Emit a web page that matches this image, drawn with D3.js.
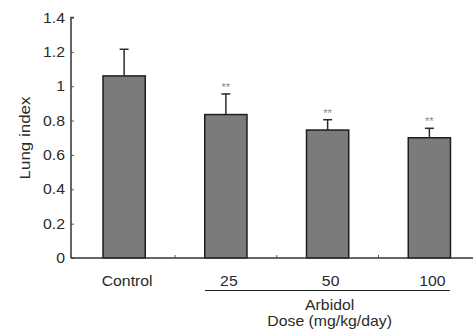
<!DOCTYPE html>
<html><head><meta charset="utf-8">
<script src="https://cdn.jsdelivr.net/npm/d3@7"></script>
<style>body{margin:0;background:#fff}svg{display:block}text{font-family:"Liberation Sans",Arial,sans-serif;fill:#2a2a2a}</style>
</head><body>
<svg id="c" width="473" height="330"></svg>
<script>
const categories = ["Control","25","50","100"];
const values = [1.06, 0.835, 0.745, 0.70];
const errors = [0.155, 0.12, 0.06, 0.055];
const stars = ["","**","**","**"];
const yTicks = [0,0.2,0.4,0.6,0.8,1,1.2,1.4];
const yTickLabels = ["0","0.2","0.4","0.6","0.8","1","1.2","1.4"];

const svg = d3.select("#c");
const x0 = 71, y0 = 258;
const x = d3.scaleBand().domain(categories).range([73.5, 480]).paddingInner(0.585).paddingOuter(0.29);
const y = d3.scaleLinear().domain([0,1.4]).range([y0, 17.5]);
const sx = 1.13;

// bars
svg.selectAll("rect.bar").data(values).join("rect")
  .attr("x",(d,i)=>x(categories[i])).attr("y",d=>y(d))
  .attr("width",x.bandwidth()).attr("height",d=>y0-y(d))
  .attr("fill","#7b7b7b").attr("stroke","#1e1e1e").attr("stroke-width",1.5);

// error bars
const cx = i => x(categories[i]) + x.bandwidth()/2;
svg.selectAll("line.err").data(values).join("line")
  .attr("x1",(d,i)=>cx(i)).attr("x2",(d,i)=>cx(i))
  .attr("y1",d=>y(d)).attr("y2",(d,i)=>y(d+errors[i]))
  .attr("stroke","#2a2a2a").attr("stroke-width",1.5);
svg.selectAll("line.cap").data(values).join("line")
  .attr("x1",(d,i)=>cx(i)-4.5).attr("x2",(d,i)=>cx(i)+4.5)
  .attr("y1",(d,i)=>y(d+errors[i])).attr("y2",(d,i)=>y(d+errors[i]))
  .attr("stroke","#2a2a2a").attr("stroke-width",1.5);
svg.selectAll("text.star").data(values).join("text")
  .attr("x",(d,i)=>cx(i)).attr("y",(d,i)=>y(d+errors[i])-3)
  .attr("text-anchor","middle").attr("font-size",11).style("fill","#888")
  .text((d,i)=>stars[i]);

// y axis
const yAxis = d3.axisRight(y).tickValues(yTicks).tickSize(3).tickFormat("");
const ya = svg.append("g").attr("transform",`translate(${x0},0)`).call(yAxis);
ya.select(".domain").attr("d",`M3,${y(1.4)}H0V${y0}`).attr("stroke","#333").attr("stroke-width",1.5);
ya.selectAll(".tick line").attr("stroke","#555");
svg.selectAll("text.yl").data(yTicks).join("text")
  .attr("transform",d=>`translate(65,${y(d)+5}) scale(${sx},1)`)
  .attr("text-anchor","end").attr("font-size",14).text((d,i)=>yTickLabels[i]);

// x axis
svg.append("line").attr("x1",x0).attr("x2",473).attr("y1",y0).attr("y2",y0)
  .attr("stroke","#333").attr("stroke-width",1.5);
svg.selectAll("line.xt").data(categories.slice(1)).join("line")
  .attr("x1",c=>x(c)-(x.step()-x.bandwidth())/2).attr("x2",c=>x(c)-(x.step()-x.bandwidth())/2)
  .attr("y1",y0).attr("y2",y0-3).attr("stroke","#555");
svg.selectAll("text.xl").data(categories).join("text")
  .attr("transform",c=>`translate(${x(c)+x.bandwidth()/2+3},286) scale(${sx},1)`)
  .attr("text-anchor","middle").attr("font-size",14).text(c=>c);

// group bracket
const gx1 = 205, gx2 = 450, gc = (x("50")+x.bandwidth()/2)+2;
svg.append("line").attr("x1",gx1).attr("x2",gx2).attr("y1",290.5).attr("y2",290.5).attr("stroke","#222").attr("stroke-width",1.2);
svg.append("text").attr("transform",`translate(${gc},310) scale(${sx},1)`).attr("text-anchor","middle").attr("font-size",14).text("Arbidol");
svg.append("text").attr("transform",`translate(${gc},326) scale(${sx},1)`).attr("text-anchor","middle").attr("font-size",14).text("Dose (mg/kg/day)");

// y label
svg.append("text").attr("transform",`translate(30,138) rotate(-90) scale(${sx},1)`)
  .attr("text-anchor","middle").attr("font-size",15).text("Lung index");
</script>
</body></html>
